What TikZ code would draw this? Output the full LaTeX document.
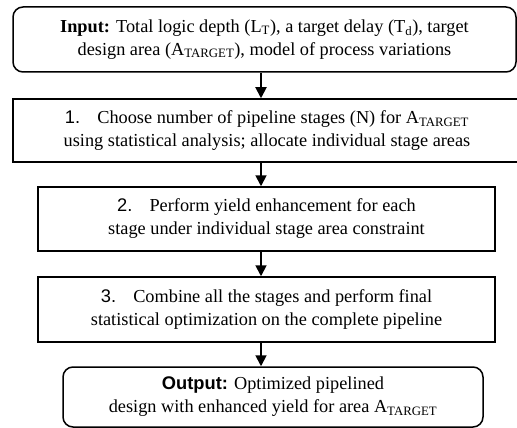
\documentclass[tikz,border=0pt]{standalone}
\usepackage{fontspec}
\setmainfont{Liberation Serif}
\newfontfamily\arialfont{Liberation Sans}
\usetikzlibrary{arrows.meta}
\newcommand{\lowsub}[1]{\textsubscript{#1}}

\begin{document}
\begin{tikzpicture}[x=1pt,y=-1pt,
  box/.style={draw, line width=1.5pt, align=center, inner sep=0pt,
    font=\fontsize{18.3}{23}\selectfont},
  roundbox/.style={box, rounded corners=10pt},
  flow/.style={-{Triangle[length=11pt,width=11pt]}, line width=1.8pt}]
\useasboundingbox (0,0) rectangle (517,428);

% flow boxes, top to bottom
\node[roundbox, minimum width=503pt, minimum height=65pt] (inp) at (264.5,39.5)
  {{\bfseries Input:} Total logic depth (L\lowsub{T}), a target delay (T\lowsub{d}), target\\
   design area (A\lowsub{TARGET}), model of process variations};
\node[box, minimum width=508pt, minimum height=63pt] (s1) at (267,130.5)
  {{\arialfont 1.}\hspace{0.6em} Choose number of pipeline stages (N) for A\lowsub{TARGET}\\
   using statistical analysis; allocate individual stage areas};
\node[box, minimum width=457pt, minimum height=64pt] (s2) at (266.5,219)
  {{\arialfont 2.}\hspace{0.6em} Perform yield enhancement for each\\
   stage under individual stage area constraint};
\node[box, minimum width=457pt, minimum height=65pt] (s3) at (266.5,309.5)
  {{\arialfont 3.}\hspace{0.6em} Combine all the stages and perform final\\
   statistical optimization on the complete pipeline};
\node[roundbox, minimum width=420pt, minimum height=60pt] (out) at (273,397)
  {{\arialfont\bfseries Output:} Optimized pipelined\\
   design with enhanced yield for area A\lowsub{TARGET}};

% connectors run down a common vertical line
\coordinate (ax) at (261,0);
\draw[flow] (inp.south -| ax) -- (s1.north -| ax);
\draw[flow] (s1.south -| ax) -- (s2.north -| ax);
\draw[flow] (s2.south -| ax) -- (s3.north -| ax);
\draw[flow] (s3.south -| ax) -- (out.north -| ax);
\end{tikzpicture}
\end{document}
